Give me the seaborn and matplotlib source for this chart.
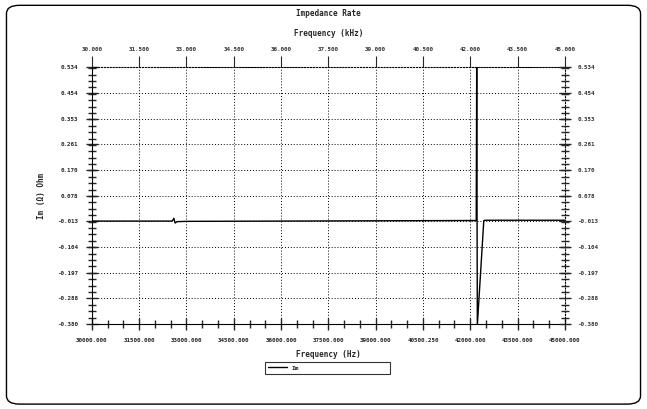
import numpy as np
import pandas as pd
import seaborn as sns
import matplotlib.pyplot as plt
from matplotlib.patches import FancyBboxPatch
from matplotlib.ticker import AutoMinorLocator

# values
freq_hz = [30000, 32550, 32600, 32640, 32700, 33000, 36000, 39000, 42000,
           42190, 42205, 42225, 42430, 42500, 45000]
im_ohm = [-0.014, -0.014, -0.004, -0.021, -0.016, -0.015, -0.014, -0.013, -0.012,
          -0.012, 0.534, -0.385, -0.012, -0.011, -0.011]

x_ticks = [30000, 31500, 33000, 34500, 36000, 37500, 39000, 40500, 42000, 43500, 45000]
x_labels = ["30000.000", "31500.000", "33000.000", "34500.000", "36000.000", "37500.000",
            "39000.000", "40500.250", "42000.000", "43500.000", "45000.000"]
top_labels = ["30.000", "31.500", "33.000", "34.500", "36.000", "37.500",
              "39.000", "40.500", "42.000", "43.500", "45.000"]
y_ticks = [0.534, 0.443, 0.351, 0.260, 0.168, 0.077, -0.014, -0.106, -0.197, -0.289, -0.380]
y_labels = ["0.534", "0.454", "0.353", "0.261", "0.170", "0.078",
            "-0.013", "-0.104", "-0.197", "-0.288", "-0.380"]

df = pd.DataFrame({"Frequency": freq_hz, "Im": im_ohm})

sns.set_style("white")
plt.rcParams["font.family"] = ["DejaVu Sans Mono"]
plt.rcParams["font.weight"] = "bold"

fig = plt.figure(figsize=(6.47, 4.09), dpi=100)
ax = fig.add_axes([0.142, 0.208, 0.731, 0.628])

sns.lineplot(data=df, x="Frequency", y="Im", sort=False, estimator=None,
             color="black", linewidth=1.0, ax=ax, label="Im")

ax.set_xlim(30000, 45000)
ax.set_ylim(-0.380, 0.534)
ax.set_xticks(x_ticks)
ax.set_xticklabels(x_labels, fontsize=4.2, fontweight="bold")
ax.set_yticks(y_ticks)
ax.set_yticklabels(y_labels, fontsize=4.2, fontweight="bold")
ax.xaxis.set_minor_locator(AutoMinorLocator(3))
ax.yaxis.set_minor_locator(AutoMinorLocator(4))
ax.tick_params(axis="both", which="major", direction="inout", length=8, width=1.0, pad=6)
ax.tick_params(axis="both", which="minor", direction="inout", length=6, width=1.0)
ax.grid(True, which="major", linestyle=(0, (1, 2)), linewidth=0.7, color="black")

ax.spines["top"].set_linestyle(":")
ax.spines["right"].set_linestyle(":")
for s in ax.spines.values():
    s.set_linewidth(0.8)
    s.set_color("black")

ax.set_xlabel("Frequency (Hz)", fontsize=5.5, fontweight="bold", labelpad=5)
ax.set_ylabel("Im (\u03a9) Ohm", fontsize=5.5, fontweight="bold", labelpad=8)

# top axis in kHz
ax_top = ax.twiny()
ax_top.set_xlim(ax.get_xlim())
ax_top.set_xticks(x_ticks)
ax_top.set_xticklabels(top_labels, fontsize=4.2, color="#333333")
ax_top.tick_params(axis="x", direction="out", length=8, width=0.8, pad=3)
ax_top.set_xlabel("Frequency (kHz)", fontsize=5.5, fontweight="bold", labelpad=8)
for s in ax_top.spines.values():
    s.set_visible(False)

# right axis repeats the y labels
ax_r = ax.twinx()
ax_r.set_ylim(ax.get_ylim())
ax_r.set_yticks(y_ticks)
ax_r.set_yticklabels(y_labels, fontsize=4.2, color="#333333")
ax_r.yaxis.set_minor_locator(AutoMinorLocator(4))
ax_r.tick_params(axis="y", which="major", direction="inout", length=8, width=1.0, pad=5)
ax_r.tick_params(axis="y", which="minor", direction="inout", length=6, width=1.0)
for s in ax_r.spines.values():
    s.set_visible(False)

fig.text(0.507, 0.968, "Impedance Rate", ha="center", va="center",
         fontsize=5.5, fontweight="bold")

leg = ax.legend(loc="upper left",
                bbox_to_anchor=(265 / 647, 1 - 378 / 409, 125 / 647, 16 / 409),
                bbox_transform=fig.transFigure, mode="expand", fontsize=4.5,
                frameon=True, fancybox=False, handlelength=3, borderpad=0.5,
                borderaxespad=0)
leg.get_frame().set_edgecolor("black")
leg.get_frame().set_linewidth(0.8)

frame = FancyBboxPatch((0.01, 0.012), 0.98, 0.975, boxstyle="round,pad=0,rounding_size=0.02",
                       transform=fig.transFigure, fill=False, edgecolor="black",
                       linewidth=1.0)
fig.patches.append(frame)

fig.savefig("out.png", dpi=100)
